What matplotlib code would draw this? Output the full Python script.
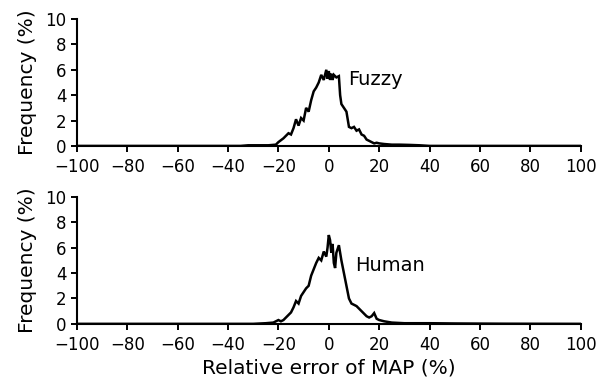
import matplotlib.pyplot as plt

# Relative error (%) and frequency (%)
fuzzy_x = [-100, -35, -32, -28, -24, -21, -20, -19, -18, -17, -16, -15, -14,
           -13, -12, -11, -10, -9, -8, -7, -6, -5, -4, -3, -2, -1, -0.5, 0,
           0.5, 1, 1.5, 2, 3, 4, 4.5, 5, 6, 7, 8, 9, 10, 11, 12, 13, 14, 15,
           16, 17, 18, 19, 20, 22, 25, 28, 32, 36, 40, 100]
fuzzy_y = [0, 0, 0.05, 0.05, 0.05, 0.1, 0.3, 0.45, 0.6, 0.8, 1.0, 0.9, 1.4,
           2.1, 1.6, 2.2, 2.0, 3.0, 2.7, 3.6, 4.3, 4.6, 5.0, 5.6, 5.2, 6.0,
           5.3, 5.9, 5.2, 5.7, 5.2, 5.6, 5.4, 5.5, 4.0, 3.3, 3.0, 2.7, 1.5,
           1.4, 1.5, 1.2, 1.3, 0.9, 0.8, 0.5, 0.4, 0.3, 0.2, 0.25, 0.2, 0.15,
           0.1, 0.1, 0.08, 0.05, 0, 0]

human_x = [-100, -30, -25, -22, -20, -19, -18, -17, -16, -15, -14, -13, -12,
           -11, -10, -9, -8, -7, -6, -5, -4, -3, -2, -1, -0.5, 0, 0.5, 1,
           1.5, 2, 2.5, 3, 4, 5, 6, 7, 8, 9, 10, 11, 12, 13, 14, 15, 16, 17,
           18, 19, 20, 22, 25, 30, 40, 50, 60, 70, 100]
human_y = [0, 0, 0.05, 0.1, 0.3, 0.2, 0.3, 0.5, 0.7, 0.9, 1.3, 1.8, 1.6, 2.2,
           2.5, 2.8, 3.0, 3.8, 4.3, 4.8, 5.2, 5.0, 5.7, 5.3, 6.0, 7.0, 6.6,
           5.6, 6.3, 4.8, 4.4, 5.6, 6.2, 5.0, 4.0, 3.0, 2.0, 1.6, 1.5, 1.4,
           1.2, 1.0, 0.8, 0.6, 0.5, 0.6, 0.85, 0.4, 0.3, 0.2, 0.1, 0.05, 0.05,
           0.03, 0.02, 0.01, 0]

x_ticks = [-100, -80, -60, -40, -20, 0, 20, 40, 60, 80, 100]
y_ticks = [0, 2, 4, 6, 8, 10]

plt.rcParams["font.family"] = ["DejaVu Sans"]

fig = plt.figure(figsize=(6.0, 3.81), dpi=100)
ax_top = fig.add_axes([0.128, 0.617, 0.840, 0.333])
ax_bot = fig.add_axes([0.128, 0.150, 0.840, 0.333])

panels = [(ax_top, fuzzy_x, fuzzy_y, "Fuzzy", (7.5, 5.2)),
          (ax_bot, human_x, human_y, "Human", (10.3, 4.6))]

for ax, xs, ys, name, pos in panels:
    ax.plot(xs, ys, color="black", lw=1.8, solid_joinstyle="miter")
    ax.text(pos[0], pos[1], name, ha="left", va="center", fontsize=14)
    ax.set_xlim(-100, 100)
    ax.set_ylim(0, 10)
    ax.set_xticks(x_ticks)
    ax.set_yticks(y_ticks)
    for side in ("top", "right"):
        ax.spines[side].set_visible(False)
    for side in ("left", "bottom"):
        ax.spines[side].set_linewidth(1.5)
    ax.tick_params(direction="out", length=4, width=1.4, labelsize=12)
    ax.tick_params(axis="x", pad=5)
    ax.tick_params(axis="y", pad=3.5)
    ax.set_ylabel("Frequency (%)", fontsize=14.5, labelpad=6)

ax_bot.set_xlabel("Relative error of MAP (%)", fontsize=14.5, labelpad=3)

fig.savefig("out.png", dpi=100)
